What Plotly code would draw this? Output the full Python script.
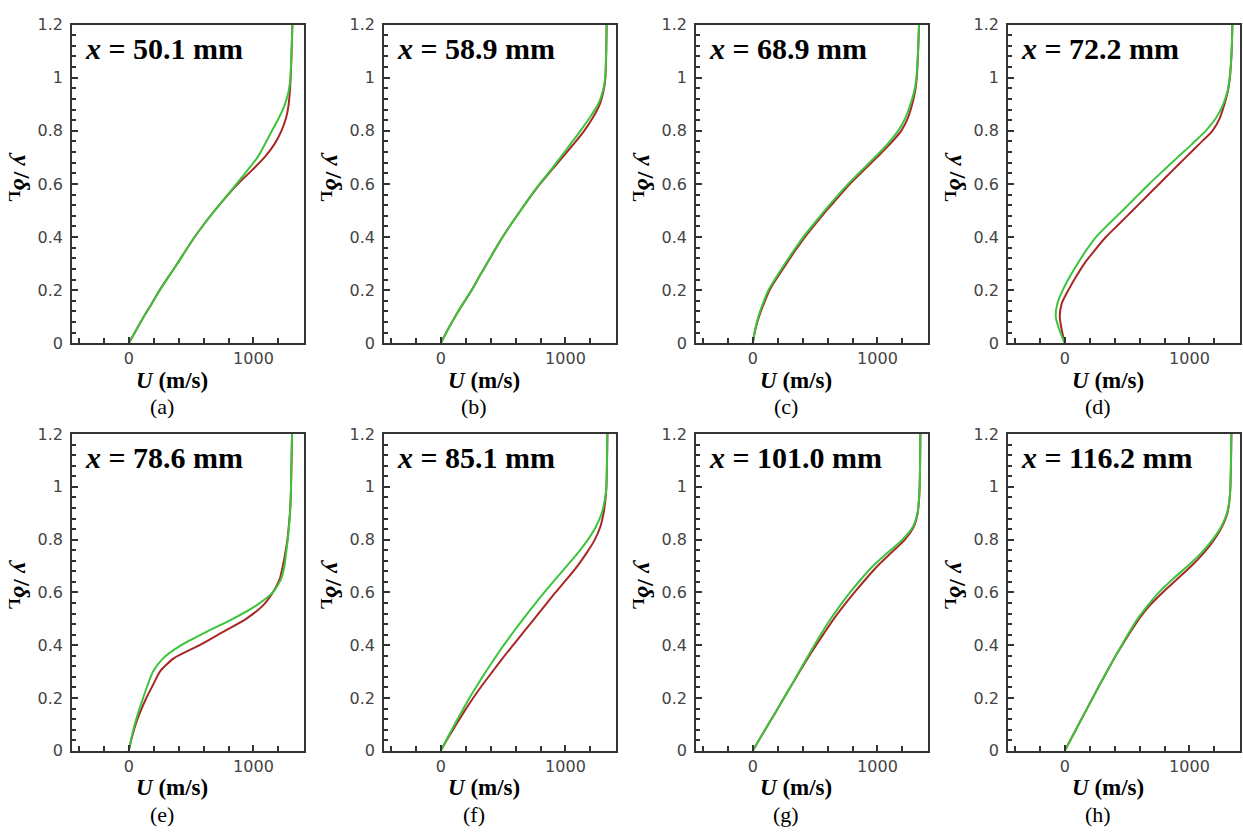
import plotly.graph_objects as go

# ---------------- data ----------------
y_levels = [0, 0.05, 0.1, 0.15, 0.2, 0.25, 0.3, 0.35, 0.4, 0.45, 0.5, 0.55,
            0.6, 0.65, 0.7, 0.75, 0.8, 0.85, 0.9, 0.95, 1.0, 1.1, 1.2]

panel_titles = ["50.1", "58.9", "68.9", "72.2", "78.6", "85.1", "101.0", "116.2"]
panel_letters = ["(a)", "(b)", "(c)", "(d)", "(e)", "(f)", "(g)", "(h)"]

green_a = [0, 60, 120, 185, 248, 318, 390, 458, 528, 606, 690, 776, 864, 950, 1032, 1092, 1148, 1205, 1252, 1282, 1296, 1305, 1312]
red_a   = [0, 60, 120, 185, 248, 318, 390, 458, 528, 606, 690, 780, 875, 985, 1088, 1168, 1224, 1262, 1282, 1292, 1298, 1306, 1312]

green_b = [0, 55, 115, 180, 248, 308, 370, 432, 496, 566, 640, 714, 792, 878, 960, 1040, 1120, 1195, 1262, 1300, 1318, 1326, 1330]
red_b   = [0, 55, 115, 180, 248, 308, 370, 432, 496, 566, 640, 716, 796, 885, 975, 1065, 1150, 1220, 1275, 1305, 1320, 1327, 1330]

green_c = [0, 18, 45, 82, 125, 190, 259, 330, 405, 490, 578, 670, 765, 870, 978, 1080, 1165, 1225, 1264, 1295, 1312, 1325, 1333]
red_c   = [0, 20, 50, 90, 135, 200, 270, 342, 418, 503, 592, 685, 780, 887, 995, 1100, 1190, 1245, 1278, 1302, 1315, 1326, 1333]

green_d = [0, -43, -72, -59, -16, 40, 104, 172, 250, 355, 464, 570, 677, 790, 904, 1020, 1130, 1215, 1270, 1305, 1322, 1338, 1344]
red_d   = [0, -24, -40, -24, 29, 90, 157, 240, 330, 437, 544, 650, 757, 863, 970, 1078, 1184, 1245, 1280, 1308, 1324, 1338, 1344]

green_e = [0, 22, 48, 80, 115, 152, 195, 275, 421, 621, 835, 1021, 1155, 1221, 1248, 1262, 1275, 1285, 1293, 1298, 1301, 1305, 1309]
red_e   = [0, 25, 55, 95, 141, 195, 250, 360, 568, 755, 941, 1075, 1155, 1210, 1235, 1255, 1272, 1283, 1292, 1298, 1301, 1305, 1309]

green_f = [0, 55, 112, 170, 230, 295, 362, 432, 505, 582, 662, 745, 830, 920, 1010, 1100, 1180, 1245, 1290, 1315, 1328, 1333, 1336]
red_f   = [0, 60, 125, 190, 260, 335, 415, 495, 580, 665, 750, 835, 920, 1010, 1095, 1170, 1235, 1280, 1305, 1320, 1328, 1333, 1336]

green_g = [0, 62, 125, 188, 250, 312, 372, 432, 494, 558, 625, 700, 780, 868, 964, 1080, 1200, 1285, 1320, 1332, 1338, 1342, 1344]
red_g   = [0, 62, 125, 188, 250, 313, 376, 440, 508, 578, 650, 730, 815, 905, 1000, 1110, 1220, 1292, 1322, 1333, 1338, 1342, 1344]

green_h = [0, 56, 112, 168, 224, 280, 338, 396, 456, 518, 584, 665, 755, 865, 985, 1095, 1185, 1255, 1300, 1320, 1328, 1333, 1336]
red_h   = [0, 56, 112, 168, 224, 280, 338, 396, 460, 526, 596, 680, 785, 900, 1015, 1115, 1198, 1262, 1304, 1321, 1328, 1333, 1336]

green_series = [green_a, green_b, green_c, green_d, green_e, green_f, green_g, green_h]
red_series = [red_a, red_b, red_c, red_d, red_e, red_f, red_g, red_h]

y_tick_vals = [0, 0.2, 0.4, 0.6, 0.8, 1.0, 1.2]
y_tick_text = ["0", "0.2", "0.4", "0.6", "0.8", "1", "1.2"]
x_tick_vals = [0, 1000]
x_tick_text = ["0", "1000"]

# ---------------- layout geometry ----------------
W, H = 1243, 835
panel_lefts = [72, 384, 696, 1008]
panel_w = 232
row_tops = [16, 435]
row_bottoms = [342, 759]

RED = "#a8282a"
GREEN = "#3cc43c"
AXC = "#333333"

fig = go.Figure()
annotations = []

for i in range(8):
    r, c = divmod(i, 4)
    n = i + 1
    xa = "x" if n == 1 else f"x{n}"
    ya = "y" if n == 1 else f"y{n}"
    left = panel_lefts[c]
    right = left + panel_w
    top = row_tops[r]
    bottom = row_bottoms[r]

    fig.add_trace(go.Scatter(x=red_series[i], y=y_levels, mode="lines",
                             line=dict(color=RED, width=2, shape="spline", smoothing=0.6),
                             xaxis=xa, yaxis=ya, showlegend=False))
    fig.add_trace(go.Scatter(x=green_series[i], y=y_levels, mode="lines",
                             line=dict(color=GREEN, width=2, shape="spline", smoothing=0.6),
                             xaxis=xa, yaxis=ya, showlegend=False))

    xkey = "xaxis" if n == 1 else f"xaxis{n}"
    ykey = "yaxis" if n == 1 else f"yaxis{n}"
    fig.update_layout(**{
        xkey: dict(domain=[left / W, right / W], anchor=ya, range=[-455, 1405],
                   tickvals=x_tick_vals, ticktext=x_tick_text,
                   ticks="inside", ticklen=6, tickwidth=1.5, tickcolor=AXC,
                   minor=dict(dtick=200, tick0=0, ticks="inside", ticklen=5,
                              tickwidth=1.5, tickcolor=AXC),
                   showline=True, linecolor=AXC, linewidth=1.5, mirror=True,
                   showgrid=False, zeroline=False,
                   tickfont=dict(family="DejaVu Sans", size=16, color="#444444")),
        ykey: dict(domain=[1 - bottom / H, 1 - top / H], anchor=xa, range=[0, 1.2],
                   tickvals=y_tick_vals, ticktext=y_tick_text,
                   ticks="inside", ticklen=6, tickwidth=1.5, tickcolor=AXC,
                   minor=dict(dtick=0.04, tick0=0, ticks="inside", ticklen=4,
                              tickwidth=1.5, tickcolor=AXC),
                   showline=True, linecolor=AXC, linewidth=1.5, mirror=True,
                   showgrid=False, zeroline=False, ticklabelstandoff=4,
                   tickfont=dict(family="DejaVu Sans", size=16, color="#444444")),
    })

    # panel title
    annotations.append(dict(
        x=(left + 11) / W, y=1 - (top + 24) / H, xref="paper", yref="paper",
        xanchor="left", yanchor="middle", showarrow=False,
        text=f"<b><i>x</i> = {panel_titles[i]} mm</b>",
        font=dict(family="Liberation Serif", size=30, color="black")))
    # x-axis title
    annotations.append(dict(
        x=(left + 100) / W, y=1 - (bottom + 38) / H, xref="paper", yref="paper",
        xanchor="center", yanchor="middle", showarrow=False,
        text="<b><i>U</i> (m/s)</b>",
        font=dict(family="Liberation Serif", size=23, color="black")))
    # panel letter
    annotations.append(dict(
        x=(left + 90) / W, y=1 - (bottom + 65) / H, xref="paper", yref="paper",
        xanchor="center", yanchor="middle", showarrow=False,
        text=panel_letters[i],
        font=dict(family="Liberation Serif", size=22, color="black")))
    # y-axis title
    annotations.append(dict(
        x=(left - 52) / W, y=1 - (bottom - 170) / H, xref="paper", yref="paper",
        xanchor="center", yanchor="middle", showarrow=False, textangle=90,
        text="<b><i>y</i> /<i>δ</i><sub>L</sub></b>",
        font=dict(family="Liberation Serif", size=24, color="black")))

fig.update_layout(width=W, height=H, margin=dict(l=0, r=0, t=0, b=0),
                  paper_bgcolor="white", plot_bgcolor="white",
                  annotations=annotations, showlegend=False)

fig.write_html("out.html", config={"displayModeBar": False},
               post_script="document.body.style.margin='0px';document.body.style.overflow='hidden';")
